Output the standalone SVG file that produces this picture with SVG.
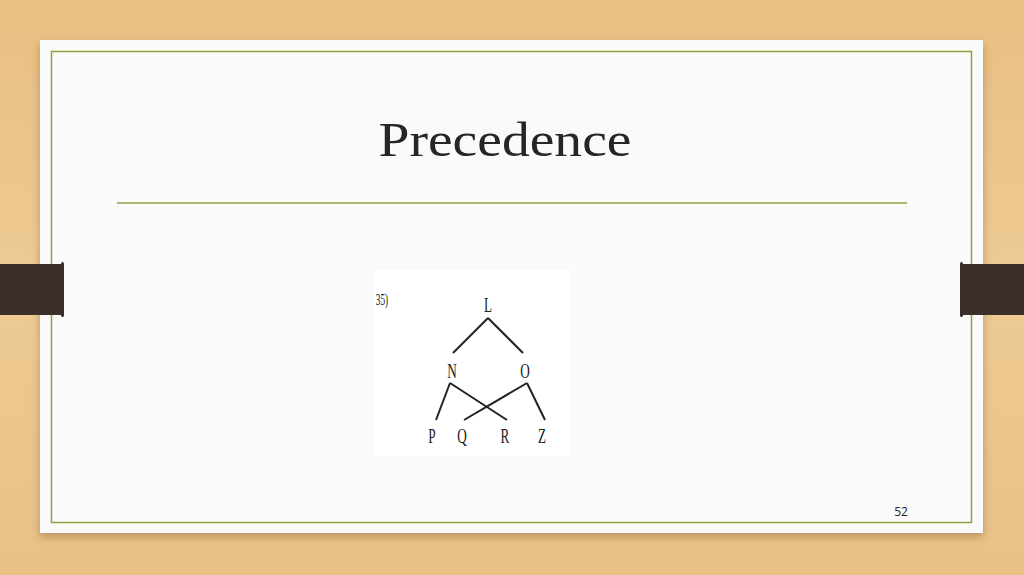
<svg xmlns="http://www.w3.org/2000/svg" width="1024" height="575" viewBox="0 0 1024 575">
<defs>
<linearGradient id="wood" x1="0" y1="0" x2="0" y2="1">
<stop offset="0" stop-color="#e9bf83"/>
<stop offset="0.5" stop-color="#edcb93"/>
<stop offset="1" stop-color="#e9c186"/>
</linearGradient>
<filter id="shadow" x="-5%" y="-5%" width="110%" height="115%">
<feDropShadow dx="0" dy="4" stdDeviation="4" flood-color="#7a5a30" flood-opacity="0.45"/>
</filter>
<style>
.lbl{font-family:"Liberation Serif",serif;font-size:22px;fill:#222;text-anchor:middle}
.edge{stroke:#222;stroke-width:2;fill:none}
</style>
</defs>
<rect x="0" y="0" width="1024" height="575" fill="url(#wood)"/>
<g id="card">
<rect x="40" y="40" width="943" height="493" fill="#fafafa" filter="url(#shadow)"/>
<rect x="51.5" y="51.5" width="920" height="471" fill="none" stroke="#8ea23c" stroke-width="1.5"/>
</g>
<g id="tabs">
<rect x="0" y="264" width="63" height="51" fill="#3b3029"/>
<rect x="61" y="262" width="3" height="55" rx="1.5" fill="#3b3029"/>
<rect x="961" y="264" width="63" height="51" fill="#3b3029"/>
<rect x="960" y="262" width="3" height="55" rx="1.5" fill="#3b3029"/>
</g>
<g id="title">
<text x="505" y="156" font-family="'Liberation Serif','DejaVu Serif',serif" font-size="49" fill="#262626" text-anchor="middle" textLength="253" lengthAdjust="spacingAndGlyphs">Precedence</text>
<line x1="117" y1="203" x2="907" y2="203" stroke="#8ea23c" stroke-width="1.5"/>
</g>
<g id="picture">
<rect x="374" y="270" width="197" height="186" fill="#ffffff"/>
<text font-family="'Liberation Serif',serif" font-size="17" fill="#222" text-anchor="middle" transform="translate(382 305) scale(0.55 1)">35)</text>
</g>
<g id="connectors">
<line class="edge" x1="488" y1="318" x2="453" y2="353"/>
<line class="edge" x1="488" y1="318" x2="523" y2="353"/>
<line class="edge" x1="450" y1="383" x2="436" y2="420"/>
<line class="edge" x1="450" y1="383" x2="507" y2="420"/>
<line class="edge" x1="527" y1="383" x2="464" y2="420"/>
<line class="edge" x1="527" y1="383" x2="545" y2="420"/>
</g>
<g id="node-L"><text class="lbl" transform="translate(488 312) scale(0.6 1)">L</text></g>
<g id="node-N"><text class="lbl" transform="translate(452 378) scale(0.6 1)">N</text></g>
<g id="node-O"><text class="lbl" transform="translate(525 378) scale(0.6 1)">O</text></g>
<g id="node-P"><text class="lbl" transform="translate(432 443) scale(0.6 1)">P</text></g>
<g id="node-Q"><text class="lbl" transform="translate(462 443) scale(0.6 1)">Q</text></g>
<g id="node-R"><text class="lbl" transform="translate(505 443) scale(0.6 1)">R</text></g>
<g id="node-Z"><text class="lbl" transform="translate(542 443) scale(0.6 1)">Z</text></g>
<g id="page-number">
<text x="901" y="516" font-family="'Open Sans','Liberation Sans',sans-serif" font-size="12" fill="#222" text-anchor="middle">52</text>
</g>
</svg>
